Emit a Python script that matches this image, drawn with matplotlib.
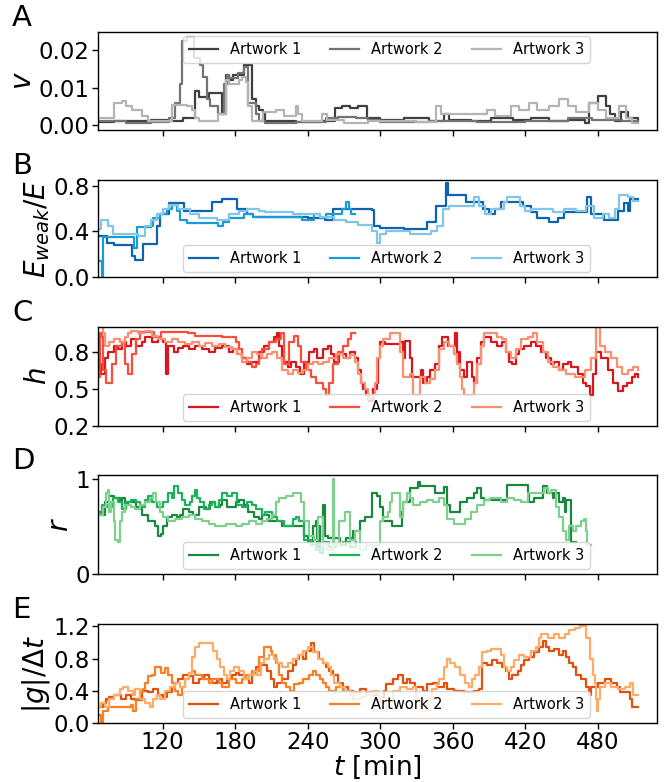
import matplotlib
matplotlib.use("Agg")
import matplotlib.pyplot as plt

plt.rcParams['font.family'] = ['DejaVu Sans']
plt.rcParams['mathtext.fontset'] = 'dejavusans'

labels = ['Artwork 1', 'Artwork 2', 'Artwork 3']
xticks = [120, 180, 240, 300, 360, 420, 480]

# ---------------- Panel A : v ----------------
tA1 = [67, 80, 95, 110, 125, 137, 147, 150, 158, 169, 172, 175, 178, 187, 193.6, 197, 200, 203, 205, 230, 250, 263,
       268, 275, 282, 289, 300, 320, 340, 353, 357, 375, 392, 410, 425, 440, 455, 469.5, 473, 480, 487, 490, 494, 499,
       505, 513]
vA1 = [0.0008, 0.0012, 0.001, 0.0013, 0.0012, 0.002, 0.009, 0.0075, 0.0085, 0.003, 0.0135, 0.012, 0.0135, 0.016,
       0.007, 0.005, 0.004, 0.003, 0.001, 0.0008, 0.001, 0.0045, 0.005, 0.0045, 0.0052, 0.002, 0.0015, 0.0018, 0.0012,
       0.003, 0.0015, 0.001, 0.0018, 0.0015, 0.002, 0.0012, 0.0015, 0.0005, 0.006, 0.0077, 0.005, 0.003, 0.001, 0.0035,
       0.002, 0.0015]
tA2 = [67, 90, 110, 125, 130, 134.4, 136.4, 140, 146, 151, 153, 156.7, 159, 166, 170.6, 173, 175, 182, 187, 191, 197,
       200, 205, 230, 255, 265, 280, 290, 300, 340, 380, 420, 455, 475, 500, 513]
vA2 = [0.001, 0.0005, 0.0008, 0.002, 0.006, 0.011, 0.0225, 0.0235, 0.018, 0.016, 0.013, 0.007, 0.005, 0.003, 0.011,
       0.0135, 0.0125, 0.014, 0.0155, 0.006, 0.003, 0.001, 0.0005, 0.0008, 0.002, 0.0022, 0.002, 0.0015, 0.0008, 0.001,
       0.0008, 0.001, 0.002, 0.0015, 0.001, 0.0008]
tA3 = [67, 80, 86, 90, 95, 103, 108, 127.5, 140, 144, 147, 150, 166, 172, 175, 183, 186, 189, 191, 194, 203, 213.6,
       220, 230, 232, 235, 252, 256, 270, 290, 310, 330, 346, 350, 388, 395, 408, 415, 423.5, 430, 440, 448, 455, 462,
       473, 480, 487, 497.5, 503, 508, 513]
vA3 = [0.002, 0.006, 0.0065, 0.005, 0.004, 0.0025, 0.001, 0.0055, 0.005, 0.004, 0.002, 0.001, 0.003, 0.012, 0.011,
       0.012, 0.013, 0.0115, 0.005, 0.001, 0.0035, 0.004, 0.0025, 0.005, 0.003, 0.001, 0.003, 0.0015, 0.0005, 0.001,
       0.0012, 0.0008, 0.005, 0.003, 0.004, 0.0025, 0.005, 0.004, 0.006, 0.004, 0.005, 0.0069, 0.005, 0.0035, 0.006,
       0.004, 0.002, 0.005, 0.002, 0.0005, 0.0005]

# ---------------- Panel B : E_weak/E ----------------
tB1 = [67, 74, 80, 95, 97, 104, 115, 118, 125, 137.6, 160.6, 169.4, 181.8, 190, 195, 240, 254, 261, 293, 294.7, 300,
       320, 339, 346, 354.7, 356, 370.6, 385, 390, 395, 400, 418, 425, 430, 440, 447, 452, 471, 474, 485, 497, 502,
       505, 507, 513]
yB1 = [0.36, 0.30, 0.28, 0.18, 0.15, 0.29, 0.45, 0.55, 0.65, 0.58, 0.66, 0.68, 0.60, 0.55, 0.53, 0.52, 0.50, 0.60,
       0.59, 0.45, 0.43, 0.42, 0.48, 0.62, 0.82, 0.72, 0.66, 0.60, 0.55, 0.60, 0.66, 0.62, 0.57, 0.52, 0.48, 0.52, 0.57,
       0.70, 0.55, 0.50, 0.58, 0.65, 0.58, 0.68, 0.68]
tB2 = [67, 69.5, 71, 96, 99, 110, 112, 118, 123.5, 128, 132, 134, 140, 166, 170, 175, 187, 195, 235, 245, 250, 255,
       268, 271.8, 274, 276, 279]
yB2 = [0.14, 0.0, 0.35, 0.25, 0.44, 0.45, 0.52, 0.55, 0.60, 0.63, 0.58, 0.50, 0.47, 0.45, 0.48, 0.52, 0.55, 0.53,
       0.50, 0.55, 0.52, 0.55, 0.60, 0.66, 0.60, 0.55, 0.55]
tB3 = [67, 69, 75, 79, 100, 105, 110, 115, 120, 125, 133, 143, 150, 165, 175, 183.5, 190, 200, 205, 228, 250, 262,
       272, 282, 293, 297, 300, 305, 325, 342, 347, 352, 357, 377.7, 382, 387, 392, 402, 405, 416, 420, 425, 443, 452,
       462, 470, 477, 484, 489, 494, 497.7, 505, 509, 513]
yB3 = [0.42, 0.50, 0.45, 0.38, 0.36, 0.45, 0.50, 0.55, 0.60, 0.63, 0.60, 0.55, 0.52, 0.50, 0.55, 0.58, 0.60, 0.58,
       0.57, 0.55, 0.53, 0.50, 0.48, 0.46, 0.40, 0.30, 0.38, 0.40, 0.38, 0.40, 0.45, 0.60, 0.62, 0.70, 0.62, 0.55, 0.60,
       0.66, 0.70, 0.62, 0.58, 0.60, 0.57, 0.60, 0.58, 0.62, 0.52, 0.55, 0.52, 0.60, 0.72, 0.70, 0.67, 0.67]

# ---------------- Panel C : h ----------------
tC1 = [67, 69, 72, 75, 80, 83, 86, 90, 94, 98, 102.5, 105, 110.8, 116, 120.5, 122.5, 124.7, 129, 133, 137, 141.4, 147,
       152.5, 158, 163.6, 169, 174.7, 178, 181.7, 186, 190, 194, 199.7, 204, 208, 212.2, 215, 216.5, 219, 223.3, 226,
       230.3, 234, 237.2, 241, 245.5, 248, 252.5, 256.7, 259, 262, 266, 272, 275, 279, 281.7, 284, 285.8, 288.6, 291,
       294.2, 297, 298, 300, 304, 316, 319, 320.5, 324.7, 326, 334, 335.8, 338.6, 341.3, 345.5, 348.3, 351, 356, 362,
       363.5, 365, 366.3, 369.1, 371.9, 376, 377.5, 380.2, 383, 386, 391.3, 396.9, 401, 404, 406.6, 409, 412.2, 415,
       419, 424.7, 429, 433, 437.2, 441.3, 444, 448.3, 451, 455.2, 458, 463.6, 467.8, 470.5, 473.3, 476, 478.8, 483,
       488.6, 492.7, 496.9, 501, 503.8, 508, 510.8, 513.6]
hC1 = [0.70, 0.62, 0.75, 0.80, 0.85, 0.82, 0.88, 0.85, 0.90, 0.85, 0.88, 0.92, 0.88, 0.90, 0.88, 0.62, 0.85, 0.80,
       0.83, 0.85, 0.82, 0.85, 0.82, 0.80, 0.83, 0.85, 0.80, 0.82, 0.78, 0.75, 0.70, 0.72, 0.80, 0.85, 0.88, 0.92, 0.95,
       0.85, 0.72, 0.68, 0.72, 0.68, 0.62, 0.72, 0.80, 0.82, 0.75, 0.82, 0.85, 0.78, 0.72, 0.78, 0.75, 0.80, 0.75, 0.65,
       0.55, 0.50, 0.45, 0.40, 0.50, 0.55, 0.75, 0.88, 0.86, 0.88, 0.75, 0.885, 0.75, 0.60, 0.65, 0.55, 0.60, 0.65,
       0.70, 0.85, 0.92, 0.85, 0.95, 0.72, 0.80, 0.65, 0.60, 0.72, 0.60, 0.55, 0.75, 0.88, 0.92, 0.88, 0.85, 0.88, 0.80,
       0.72, 0.70, 0.78, 0.82, 0.85, 0.88, 0.85, 0.80, 0.75, 0.70, 0.72, 0.65, 0.70, 0.72, 0.68, 0.62, 0.55, 0.52, 0.45,
       0.62, 0.80, 0.75, 0.65, 0.55, 0.48, 0.52, 0.55, 0.60, 0.62, 0.60]
tC2 = [67, 68.3, 69.5, 70.6, 73.3, 78, 81.7, 86, 88.6, 91.4, 95, 98.3, 101, 112.5, 119, 141, 147, 169, 180.3, 183, 186,
       190, 194, 197, 199.7, 202.5, 208, 213.6, 217.8, 220.5, 224.7, 228.9, 231.7, 234.4, 238.6, 242.8, 247, 252.5,
       255.3, 258, 260.8, 265, 269.2, 273.3, 276, 278.9]
hC2 = [0.60, 0.95, 0.92, 0.65, 0.55, 0.70, 0.85, 0.88, 0.70, 0.62, 0.78, 0.90, 0.96, 0.92, 0.96, 0.95, 0.93, 0.92,
       0.88, 0.82, 0.75, 0.72, 0.68, 0.70, 0.75, 0.82, 0.88, 0.90, 0.95, 0.70, 0.88, 0.93, 0.85, 0.72, 0.65, 0.60, 0.55,
       0.50, 0.45, 0.55, 0.70, 0.80, 0.85, 0.90, 0.95, 0.95]
tC3 = [67, 70.6, 72, 76, 80, 84.4, 88.6, 91.4, 94, 99.7, 105.3, 110.8, 116.4, 122, 127.5, 133, 138.6, 144, 149.7, 155,
       160.8, 166.4, 171.9, 177.5, 181.7, 185.8, 190, 194, 198, 202.5, 206.7, 210.8, 215, 219, 223.3, 227.5, 231.7,
       235.8, 240, 244.2, 248.3, 252.5, 258, 263.6, 269.2, 274.7, 279, 281.7, 284.4, 287, 290, 292.8, 295.5, 297, 299.7,
       302.5, 308, 315, 316.3, 319, 324.7, 327, 327.5, 331.6, 333, 337, 341.3, 345.5, 348.3, 352.5, 356.6, 360.8, 363.5,
       366.3, 367.7, 369, 376, 377.5, 380.2, 383, 385.8, 391.3, 396.9, 401, 404, 408, 412.2, 416.3, 421.9, 426, 430,
       434.4, 438.5, 442.7, 448.3, 453.8, 460.8, 469.1, 474.7, 478.8, 481.6, 485.8, 491.3, 495.5, 499.7, 505, 509.4,
       513.6]
hC3 = [1.0, 0.95, 0.85, 0.88, 0.90, 0.88, 0.92, 0.95, 0.97, 0.95, 0.97, 0.93, 0.90, 0.88, 0.90, 0.88, 0.86, 0.88,
       0.85, 0.87, 0.85, 0.86, 0.84, 0.82, 0.78, 0.72, 0.75, 0.80, 0.78, 0.75, 0.78, 0.80, 0.75, 0.65, 0.62, 0.65, 0.63,
       0.65, 0.70, 0.72, 0.70, 0.72, 0.75, 0.78, 0.75, 0.77, 0.72, 0.62, 0.55, 0.50, 0.42, 0.45, 0.55, 0.75, 0.85, 0.90,
       0.95, 0.95, 0.80, 0.60, 0.62, 0.55, 0.45, 0.45, 0.60, 0.55, 0.58, 0.65, 0.82, 0.88, 0.85, 0.78, 0.70, 0.60, 0.50,
       0.45, 0.45, 0.55, 0.70, 0.85, 0.95, 0.95, 0.92, 0.90, 0.80, 0.75, 0.82, 0.90, 0.92, 0.95, 0.88, 0.80, 0.72, 0.68,
       0.65, 0.62, 0.60, 0.65, 0.75, 1.0, 0.85, 0.80, 0.75, 0.68, 0.62, 0.65, 0.68, 0.65]

# ---------------- Panel D : r ----------------
tD1 = [67, 69, 72, 76, 80, 84.4, 86, 88.6, 91.4, 98.3, 101, 102.5, 108, 113.6, 116.4, 119, 120.5, 123.3, 127.5, 131.7,
       134.4, 137, 141.4, 145.5, 150, 155.6, 159.4, 163.6, 167.8, 169, 173.3, 180.3, 183, 187, 191, 195.6, 199.7, 202.5,
       208, 219, 237, 240, 244, 247, 247.8, 249, 250, 252.5, 254, 256.7, 266.4, 272, 277.5, 283, 287, 292.8, 297,
       299.7, 302.5, 309.4, 316, 318, 319, 325, 331.6, 333, 345, 352.5, 355, 358, 366, 372, 377.5, 380, 383, 386, 405,
       422, 423.5, 427, 434.4, 438, 442.7, 444, 448, 451, 452.5, 454, 458, 462]
rD1 = [0.65, 0.62, 0.75, 0.82, 0.80, 0.75, 0.80, 0.72, 0.75, 0.70, 0.68, 0.62, 0.55, 0.50, 0.40, 0.42, 0.50, 0.60,
       0.62, 0.60, 0.62, 0.68, 0.65, 0.62, 0.70, 0.68, 0.75, 0.70, 0.72, 0.78, 0.70, 0.75, 0.78, 0.72, 0.65, 0.60, 0.58,
       0.62, 0.55, 0.50, 0.40, 0.33, 0.50, 0.55, 0.28, 0.50, 0.22, 0.72, 0.40, 0.38, 0.30, 0.38, 0.45, 0.55, 0.60, 0.85,
       0.82, 0.70, 0.55, 0.50, 0.50, 0.65, 0.75, 0.90, 0.97, 0.92, 0.85, 0.91, 0.72, 0.65, 0.75, 0.80, 0.85, 0.90, 0.80,
       0.78, 0.93, 0.85, 0.75, 0.80, 0.92, 0.85, 0.80, 0.85, 0.75, 0.80, 0.65, 0.78, 0.33, 0.33]
tD2 = [67, 70, 74, 79, 83, 86, 90, 94, 98.3, 101, 105.3, 108, 110.8, 115, 120.5, 124.7, 127.5, 129.7, 133, 135.8,
       138.6, 142.8, 144, 146.4, 148, 151, 154, 158, 161, 163.6, 166.4, 169, 173.3, 177.5, 181.7, 186, 190, 194, 197,
       202.5, 205, 210.8, 215, 220.5, 227.5, 230, 233, 237, 242.8, 247, 252.5, 258, 263.6, 269, 274.7, 280]
rD2 = [0.65, 0.72, 0.70, 0.80, 0.75, 0.68, 0.75, 0.78, 0.75, 0.70, 0.78, 0.82, 0.75, 0.70, 0.75, 0.85, 0.80, 0.92,
       0.85, 0.78, 0.72, 0.75, 0.82, 0.88, 0.80, 0.75, 0.68, 0.72, 0.75, 0.70, 0.78, 0.85, 0.82, 0.85, 0.72, 0.70, 0.75,
       0.72, 0.68, 0.62, 0.65, 0.60, 0.55, 0.50, 0.58, 0.60, 0.55, 0.35, 0.30, 0.25, 0.33, 0.28, 0.30, 0.33, 0.28, 0.33]
tD3 = [67, 70.6, 73.3, 74.7, 76, 77.5, 80, 80.5, 83, 84.4, 86, 88.6, 94, 96.9, 101, 105.3, 109.4, 112, 114.7, 117.8,
       120.5, 124.7, 130.3, 135.8, 141.4, 147, 152.5, 158, 163.6, 172, 180.3, 186, 191.4, 197, 202.5, 206.7, 210.8,
       213.6, 216.4, 222, 227.5, 234.4, 237, 241, 245.6, 248.3, 252.5, 256, 260.8, 261.5, 266, 270.5, 274.7, 278.9, 283,
       288.6, 294, 297, 299.7, 302.5, 306.6, 308, 309.4, 316, 319, 322, 324.7, 327.5, 333, 338.6, 344, 348.3, 352.5,
       355, 361, 370.5, 374.7, 380, 385.8, 391, 399.7, 405, 410.8, 416.3, 422, 435.8, 438.6, 441.3, 445.5, 448.3, 451,
       453.8, 456.6, 459.4, 462, 466.4, 468.6, 470.5, 471.3, 474.7]
rD3 = [0.62, 0.70, 0.85, 0.88, 0.65, 0.75, 0.55, 0.35, 0.33, 0.55, 0.65, 0.72, 0.70, 0.68, 0.72, 0.75, 0.80, 0.85,
       0.75, 0.65, 0.60, 0.55, 0.58, 0.60, 0.62, 0.58, 0.55, 0.52, 0.50, 0.52, 0.50, 0.52, 0.55, 0.52, 0.55, 0.58, 0.62,
       0.75, 0.80, 0.82, 0.85, 0.75, 0.55, 0.40, 0.35, 0.60, 0.30, 0.25, 1.0, 0.30, 0.55, 0.65, 0.35, 0.45, 0.25, 0.30,
       0.25, 0.30, 0.55, 0.60, 0.65, 0.75, 0.85, 0.60, 0.75, 0.85, 0.80, 0.72, 0.75, 0.78, 0.75, 0.80, 0.72, 0.58, 0.52,
       0.58, 0.65, 0.72, 0.78, 0.80, 0.75, 0.80, 0.78, 0.75, 0.85, 0.90, 0.85, 0.88, 0.70, 0.60, 0.45, 0.35, 0.50, 0.45,
       0.50, 0.55, 0.58, 0.45, 0.30, 0.30]

# ---------------- Panel E : |g|/dt ----------------
tE1 = [67, 70.6, 73.3, 76, 80, 85.5, 90, 94, 97, 102.5, 108, 112.2, 116.4, 120.5, 123.3, 127.5, 130.3, 133, 137, 141.4,
       145.5, 150, 154, 158, 161, 165, 169, 173.3, 177.5, 180.3, 183, 187, 191.4, 194, 197, 199.7, 202.5, 206.7, 209.4,
       212.2, 215, 219, 223.3, 227.5, 230.3, 233, 235.8, 238.6, 242.8, 245.5, 249.7, 252.5, 255, 258, 260.8, 265, 269,
       273.3, 277.5, 283, 288.6, 294, 299.7, 303, 305, 310.8, 315, 319, 322, 325, 329, 335.8, 338.6, 344, 347, 352.5,
       355, 360.8, 369, 377.5, 381.6, 384.4, 388.6, 392.7, 397, 401, 404, 406.6, 409.4, 413.6, 416.3, 419, 423, 427.5,
       431.6, 434.4, 437.2, 440, 444, 448.3, 451, 453.8, 456.6, 459.4, 462, 466.4, 470.5, 472.5, 474.7, 480, 485.8,
       491.3, 495.5, 498.3, 506.6, 508, 513.6]
gE1 = [0.20, 0.25, 0.30, 0.32, 0.35, 0.30, 0.35, 0.30, 0.28, 0.40, 0.38, 0.42, 0.35, 0.32, 0.38, 0.45, 0.50, 0.55,
       0.60, 0.58, 0.50, 0.55, 0.60, 0.55, 0.50, 0.55, 0.50, 0.55, 0.60, 0.62, 0.60, 0.55, 0.50, 0.62, 0.70, 0.75, 0.72,
       0.65, 0.55, 0.45, 0.50, 0.55, 0.65, 0.72, 0.80, 0.85, 0.80, 0.90, 1.00, 0.88, 0.80, 0.75, 0.70, 0.65, 0.60, 0.50,
       0.45, 0.40, 0.38, 0.42, 0.38, 0.35, 0.32, 0.40, 0.48, 0.55, 0.60, 0.50, 0.55, 0.50, 0.45, 0.40, 0.48, 0.50, 0.45,
       0.50, 0.42, 0.40, 0.38, 0.40, 0.42, 0.75, 0.72, 0.78, 0.75, 0.70, 0.65, 0.55, 0.60, 0.65, 0.72, 0.78, 0.82, 0.88,
       0.95, 1.02, 0.95, 0.90, 0.92, 0.85, 0.90, 0.82, 0.75, 0.70, 0.60, 0.55, 0.45, 0.35, 0.45, 0.50, 0.55, 0.50, 0.45,
       0.38, 0.30, 0.20, 0.20]
tE2 = [67, 68.6, 70.6, 75, 94, 95.5, 98.3, 101, 104, 105.3, 108, 110.8, 113.6, 119, 122, 124.7, 127.5, 130.3, 133,
       135.8, 138.6, 141.4, 144.2, 147, 152.5, 158, 161, 166.4, 169, 174.7, 180.3, 185.8, 188.6, 194, 199.7, 204, 209.4,
       210.8, 213.6, 216.4, 219, 222, 225, 228.9, 233, 235.8, 241, 244, 247, 250, 252.5, 255.3, 258, 263.6, 269, 274.7,
       277.5, 279]
gE2 = [0.10, 0.0, 0.15, 0.20, 0.22, 0.15, 0.30, 0.38, 0.42, 0.50, 0.58, 0.60, 0.70, 0.62, 0.68, 0.60, 0.50, 0.40,
       0.35, 0.45, 0.55, 0.62, 0.65, 0.60, 0.55, 0.50, 0.55, 0.50, 0.45, 0.55, 0.50, 0.55, 0.60, 0.65, 0.82, 0.95, 0.90,
       0.85, 0.75, 0.60, 0.50, 0.45, 0.40, 0.48, 0.50, 0.55, 0.60, 0.65, 0.60, 0.55, 0.50, 0.45, 0.40, 0.45, 0.40, 0.35,
       0.30, 0.30]
tE3 = [67, 69, 72, 76, 80, 84.4, 87.2, 91.4, 95.6, 97, 101, 105.3, 109.4, 112.2, 115, 117.8, 122, 126, 130.3, 134.4,
       138.6, 141.4, 144, 147, 149.7, 162, 165, 167.8, 170.6, 173.3, 176, 179, 183, 187.2, 191.4, 195.6, 198.3, 201,
       203.8, 208, 212.2, 215, 219, 223.3, 227.5, 231.7, 235.8, 240, 244.2, 248.3, 252.5, 256.7, 259.4, 262, 266.4, 271,
       275, 277.5, 283, 288.6, 294, 298, 299.7, 302.5, 305, 310.8, 316.3, 322, 327.5, 330, 333, 334.4, 338.6, 342.7,
       346.9, 348.3, 352.5, 355.2, 358, 362, 366.3, 370.5, 373.3, 376, 378.8, 381.6, 384.4, 388, 391.3, 399.7, 402.5,
       405.2, 408, 410.8, 415, 419, 424.7, 428.8, 431.6, 433, 438.6, 444, 448.3, 452.5, 456.6, 460.8, 465, 470.5, 473.3,
       476, 477.5, 478.5, 479.4, 480.2, 481.6, 485.8, 491.3, 496.9, 502.5, 506.6, 509.4, 513.6]
gE3 = [0.20, 0.25, 0.20, 0.30, 0.35, 0.42, 0.45, 0.40, 0.35, 0.42, 0.30, 0.25, 0.20, 0.30, 0.35, 0.30, 0.40, 0.45,
       0.50, 0.45, 0.55, 0.62, 0.82, 0.95, 1.00, 0.90, 0.80, 0.70, 0.60, 0.55, 0.65, 0.70, 0.65, 0.55, 0.60, 0.65, 0.60,
       0.75, 0.80, 0.85, 0.80, 0.75, 0.70, 0.75, 0.80, 0.85, 0.90, 0.95, 0.88, 0.80, 0.75, 0.70, 0.60, 0.50, 0.45, 0.40,
       0.35, 0.30, 0.32, 0.35, 0.40, 0.35, 0.20, 0.15, 0.30, 0.40, 0.45, 0.42, 0.45, 0.30, 0.20, 0.15, 0.30, 0.42, 0.48,
       0.55, 0.70, 0.80, 0.75, 0.70, 0.60, 0.50, 0.45, 0.55, 0.60, 0.70, 0.88, 0.90, 0.92, 0.85, 0.70, 0.65, 0.70, 0.78,
       0.85, 0.82, 0.90, 0.95, 1.05, 1.10, 1.05, 1.10, 1.05, 1.10, 1.15, 1.18, 1.20, 1.05, 0.80, 0.60, 0.50, 0.30, 0.15,
       0.30, 0.45, 0.50, 0.45, 0.42, 0.45, 0.50, 0.35, 0.35]

panels = [
    ('A', [(tA1, vA1), (tA2, vA2), (tA3, vA3)], ['#3f3f3f', '#737373', '#b4b4b4'], '$v$', (-0.0013, 0.0249),
     [0.0, 0.01, 0.02], ['0.00', '0.01', '0.02'], 'upper'),
    ('B', [(tB1, yB1), (tB2, yB2), (tB3, yB3)], ['#0d63ad', '#1a9ad6', '#82c5e8'], '$E_{weak}/E$', (0.0, 0.85),
     [0.0, 0.4, 0.8], ['0.0', '0.4', '0.8'], 'lower'),
    ('C', [(tC1, hC1), (tC2, hC2), (tC3, hC3)], ['#d9161d', '#fb4d3a', '#fc8f6f'], '$h$', (0.2, 1.0),
     [0.2, 0.5, 0.8], ['0.2', '0.5', '0.8'], 'lower'),
    ('D', [(tD1, rD1), (tD2, rD2), (tD3, rD3)], ['#1b883f', '#1cb25a', '#7fcf8f'], '$r$', (-0.005, 1.04),
     [0, 1], ['0', '1'], 'lower'),
    ('E', [(tE1, gE1), (tE2, gE2), (tE3, gE3)], ['#e4500b', '#fd7f1f', '#fdab66'], r'$|g|/\Delta t$', (0.0, 1.23),
     [0.0, 0.4, 0.8, 1.2], ['0.0', '0.4', '0.8', '1.2'], 'lower'),
]

W, H = 667, 782
fig = plt.figure(figsize=(W / 100, H / 100), dpi=100)
tops = [32, 180, 327, 475, 624]
heights = [98, 97, 99, 99, 99]
left, right = 98, 657

for i, (letter, series, cols, ylab, ylim, yt, ytl, legpos) in enumerate(panels):
    top = tops[i]
    hgt = heights[i]
    ax = fig.add_axes([left / W, 1 - (top + hgt) / H, (right - left) / W, hgt / H])
    for (tt, yy), c, lab in zip(series, cols, labels):
        ax.plot(tt, yy, color=c, lw=1.6, drawstyle='steps-post', label=lab)
    ax.set_xlim(66.5, 529)
    ax.set_ylim(*ylim)
    ax.set_yticks(yt)
    ax.set_yticklabels(ytl)
    ax.set_xticks(xticks)
    ax.tick_params(axis='both', labelsize=16.5, length=4, width=1, top=False, right=False, pad=2)
    if i < 4:
        ax.set_xticklabels([])
    else:
        ax.set_xticklabels([str(x) for x in xticks])
        ax.set_xlabel('$t$ [min]', fontsize=19, labelpad=0)
    ax.set_ylabel(ylab, fontsize=20, labelpad=1)
    for s in ax.spines.values():
        s.set_linewidth(1.0)
    if legpos == 'upper':
        ax.legend(loc='upper left', bbox_to_anchor=(0.152, 0.96), ncol=3, fontsize=10.5, borderaxespad=0,
                  columnspacing=2.0, handlelength=2.0)
    else:
        ax.legend(loc='lower left', bbox_to_anchor=(0.152, 0.055), ncol=3, fontsize=10.5, borderaxespad=0,
                  columnspacing=2.0, handlelength=2.0)
    fig.text(12 / W, 1 - (top - 14) / H, letter, fontsize=21, ha='left', va='center')

fig.savefig('out.png', dpi=100)
